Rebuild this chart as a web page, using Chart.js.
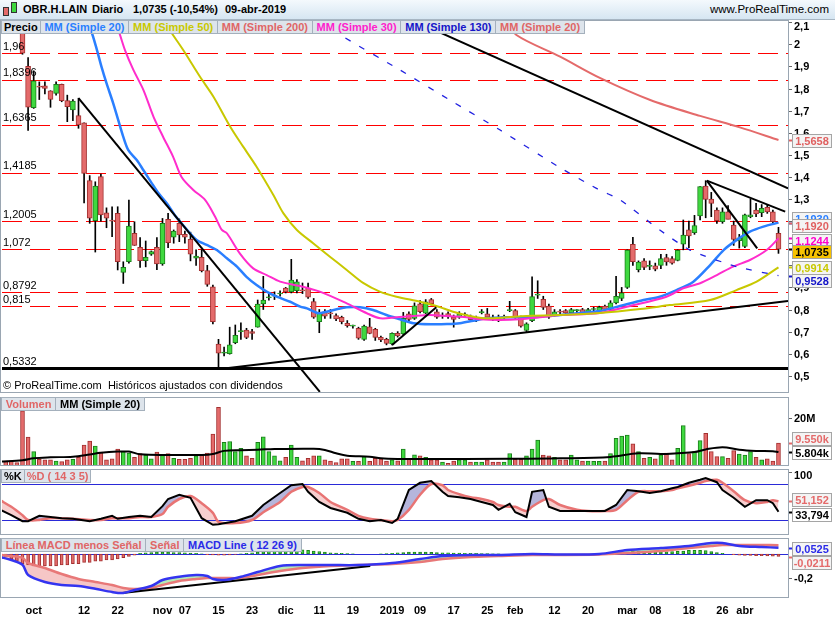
<!DOCTYPE html>
<html>
<head>
<meta charset="utf-8">
<title>OBR.H.LAIN - Diario</title>
<script src="https://cdn.jsdelivr.net/npm/chart.js"></script>
<style>
  body { margin: 0; background: #fff; font-family: "Liberation Sans", Arial, sans-serif; }
  #wrap { position: relative; width: 835px; height: 620px; overflow: hidden; background: #fff; }
  canvas { position: absolute; left: 0; }
  .top { position: absolute; left: 0; top: 0; width: 835px; height: 20px; box-sizing: border-box;
         background: linear-gradient(#f4f9fd, #d6e6f2); border-bottom: 1px solid #a7b6c3; }
  .top span { position: absolute; top: 3px; font: bold 11px "Liberation Sans", Arial, sans-serif; color: #000; white-space: pre; }
  .top .site { right: 6px; font-weight: normal; font-size: 11.5px; }
  .ico { position: absolute; width: 4px; border: 1px solid #333; }
  .legend { position: absolute; left: 1px; display: flex; height: 14px; z-index: 2; }
  .legend span { font: bold 11px/12px "Liberation Sans", Arial, sans-serif; background: #dde4eb;
                 border: 1px solid #a4b0bc; padding: 0 3.8px; margin-right: -1px; white-space: pre; }
  .note { position: absolute; left: 3px; top: 379px; font: 11px "Liberation Sans", Arial, sans-serif; white-space: pre; z-index: 2; }
</style>
</head>
<body>
<div id="wrap">
  <div class="top">
    <div class="ico" style="left:3px;top:7px;height:7px;background:#e46b6b"></div>
    <div class="ico" style="left:11px;top:2px;height:9px;background:#3fd83f"></div>
    <span style="left:23px">OBR.H.LAIN</span>
    <span style="left:92px">Diario</span>
    <span style="left:133px">1,0735 (-10,54%)</span>
    <span style="left:225px">09-abr-2019</span>
    <span class="site">www.ProRealTime.com</span>
  </div>

  <div class="legend" style="top:20px">
    <span style="color:#000;padding:0 2px">Precio</span>
    <span style="color:#2a7fff">MM (Simple 20)</span>
    <span style="color:#c8c800">MM (Simple 50)</span>
    <span style="color:#e06666">MM (Simple 200)</span>
    <span style="color:#ff22cc">MM (Simple 30)</span>
    <span style="color:#1515c8">MM (Simple 130)</span>
    <span style="color:#e06666">MM (Simple 20)</span>
  </div>
  <div class="note">© ProRealTime.com  Históricos ajustados con dividendos</div>

  <div class="legend" style="top:397px">
    <span style="color:#e06666">Volumen</span>
    <span style="color:#000">MM (Simple 20)</span>
  </div>
  <div class="legend" style="top:469px">
    <span style="color:#000;padding:0 2px">%K</span>
    <span style="color:#e06666;padding:0 2px">%D ( 14 3 5)</span>
  </div>
  <div class="legend" style="top:538px">
    <span style="color:#e06666">Línea MACD menos Señal</span>
    <span style="color:#e06666">Señal</span>
    <span style="color:#2a2ae8">MACD Line ( 12 26 9)</span>
  </div>

  <canvas id="cPrice" width="835" height="373" style="top:20px"></canvas>
  <canvas id="cVol" width="835" height="69" style="top:397px"></canvas>
  <canvas id="cSto" width="835" height="66" style="top:469px"></canvas>
  <canvas id="cMacd" width="835" height="82" style="top:538px"></canvas>
</div>

<script>
// ---- data (bar index 0 = 27-sep-2018, last bar 135 = 09-abr-2019) ----
const FIRST_BAR = -3;

const open = [
  2.30, 2.26, 2.22,
  2.18, 1.90, 1.713, 1.808, 1.812, 1.789, 1.778, 1.819, 1.745, 1.703,
  1.677, 1.645, 1.383, 1.202, 1.401, 1.238, 1.205, 1.235, 0.968, 1.016,
  1.145, 1.081, 1.021, 1.05, 1.081, 1.006, 1.208, 1.127, 1.19, 1.14,
  1.118, 1.032, 1.036, 0.976, 0.903, 0.644, 0.602, 0.60, 0.65, 0.70,
  0.707, 0.70, 0.72, 0.825, 0.853, 0.86, 0.87, 0.897, 0.88, 0.885,
  0.887, 0.897, 0.836, 0.745, 0.79, 0.782, 0.772, 0.765, 0.738, 0.725,
  0.715, 0.665, 0.722, 0.71, 0.674, 0.665, 0.644, 0.692, 0.689, 0.78,
  0.76, 0.826, 0.783, 0.845, 0.79, 0.77, 0.782, 0.766, 0.765, 0.775,
  0.768, 0.76, 0.786, 0.78, 0.766, 0.766, 0.765, 0.795, 0.795, 0.765,
  0.705, 0.75, 0.865, 0.846, 0.816, 0.775, 0.79, 0.795, 0.785, 0.795,
  0.80, 0.785, 0.80, 0.795, 0.815, 0.80, 0.83, 0.85, 0.90, 1.095,
  0.98, 1.02, 0.995, 0.998, 1.0, 1.035, 1.03, 1.022, 1.096, 1.16,
  1.148, 1.223, 1.358, 1.30, 1.25, 1.198, 1.242, 1.182, 1.112, 1.086,
  1.22, 1.25, 1.238, 1.262, 1.242, 1.145
];
const high = [
  2.32, 2.28, 2.25,
  2.20, 1.94, 1.88, 1.83, 1.83, 1.79, 1.83, 1.82, 1.77, 1.75,
  1.756, 1.645, 1.406, 1.378, 1.413, 1.26, 1.265, 1.265, 1.016, 1.295,
  1.197, 1.125, 1.11, 1.065, 1.125, 1.212, 1.235, 1.16, 1.21, 1.155,
  1.15, 1.07, 1.07, 1.0, 0.911, 0.665, 0.63, 0.72, 0.73, 0.74,
  0.715, 0.71, 0.843, 0.95, 0.875, 0.88, 0.885, 0.90, 1.027, 0.935,
  0.92, 0.92, 0.85, 0.80, 0.80, 0.80, 0.78, 0.77, 0.75, 0.73,
  0.72, 0.73, 0.76, 0.715, 0.68, 0.67, 0.695, 0.70, 0.787, 0.79,
  0.83, 0.84, 0.845, 0.85, 0.80, 0.785, 0.79, 0.775, 0.79, 0.785,
  0.775, 0.77, 0.80, 0.805, 0.775, 0.775, 0.775, 0.837, 0.80, 0.77,
  0.74, 0.948, 0.93, 0.86, 0.825, 0.80, 0.80, 0.80, 0.805, 0.80,
  0.805, 0.805, 0.81, 0.815, 0.82, 0.84, 0.95, 0.90, 1.07, 1.127,
  1.02, 1.03, 1.02, 1.01, 1.05, 1.05, 1.04, 1.07, 1.205, 1.20,
  1.226, 1.356, 1.383, 1.33, 1.26, 1.26, 1.27, 1.20, 1.14, 1.232,
  1.30, 1.28, 1.275, 1.275, 1.25, 1.172
];
const low = [
  2.24, 2.20, 2.17,
  1.955, 1.61, 1.71, 1.75, 1.775, 1.715, 1.77, 1.74, 1.65, 1.655,
  1.62, 1.282, 1.19, 1.06, 1.20, 1.17, 1.13, 0.979, 0.918, 1.01,
  1.09, 0.99, 0.993, 1.045, 0.98, 1.0, 1.08, 1.10, 1.107, 1.10,
  1.02, 1.0, 0.97, 0.905, 0.735, 0.5332, 0.59, 0.598, 0.645, 0.665,
  0.668, 0.665, 0.72, 0.80, 0.842, 0.845, 0.86, 0.875, 0.875, 0.875,
  0.872, 0.85, 0.76, 0.695, 0.76, 0.76, 0.75, 0.735, 0.72, 0.715,
  0.665, 0.66, 0.69, 0.66, 0.655, 0.64, 0.64, 0.675, 0.685, 0.745,
  0.755, 0.785, 0.78, 0.82, 0.76, 0.76, 0.76, 0.72, 0.76, 0.765,
  0.75, 0.745, 0.78, 0.76, 0.75, 0.745, 0.755, 0.79, 0.76, 0.72,
  0.70, 0.745, 0.85, 0.80, 0.76, 0.77, 0.775, 0.78, 0.78, 0.785,
  0.78, 0.78, 0.79, 0.79, 0.795, 0.795, 0.825, 0.84, 0.895, 1.0,
  0.97, 0.98, 0.98, 0.975, 0.985, 1.0, 1.005, 1.02, 1.07, 1.08,
  1.14, 1.205, 1.215, 1.22, 1.19, 1.19, 1.21, 1.09, 1.078, 1.08,
  1.215, 1.22, 1.22, 1.235, 1.19, 1.054
];
const close = [
  2.26, 2.22, 2.18,
  1.96, 1.715, 1.835, 1.806, 1.80, 1.751, 1.819, 1.745, 1.718, 1.743,
  1.635, 1.416, 1.213, 1.359, 1.228, 1.213, 1.20, 1.016, 0.991, 1.178,
  1.09, 1.021, 1.036, 1.062, 1.006, 1.19, 1.102, 1.155, 1.137, 1.127,
  1.05, 1.042, 0.976, 0.914, 0.745, 0.602, 0.607, 0.64, 0.683, 0.702,
  0.674, 0.692, 0.824, 0.843, 0.855, 0.862, 0.872, 0.88, 0.933, 0.925,
  0.884, 0.856, 0.765, 0.783, 0.77, 0.78, 0.757, 0.745, 0.727, 0.728,
  0.67, 0.725, 0.692, 0.674, 0.662, 0.647, 0.692, 0.68, 0.76, 0.755,
  0.817, 0.79, 0.835, 0.826, 0.765, 0.772, 0.767, 0.755, 0.78, 0.776,
  0.754, 0.761, 0.788, 0.765, 0.753, 0.752, 0.766, 0.796, 0.765, 0.725,
  0.735, 0.858, 0.867, 0.81, 0.765, 0.79, 0.788, 0.785, 0.80, 0.796,
  0.785, 0.80, 0.801, 0.81, 0.80, 0.83, 0.86, 0.875, 1.069, 1.016,
  1.015, 0.99, 1.0, 0.982, 1.03, 1.015, 1.01, 1.068, 1.137, 1.133,
  1.18, 1.356, 1.298, 1.28, 1.202, 1.242, 1.208, 1.117, 1.124, 1.228,
  1.228, 1.232, 1.258, 1.242, 1.197, 1.0735
];
// volume in millions
const volume = [
  2.2, 2.2, 1.4,
  23, 12, 6, 2.8, 2.6, 2.6, 2, 1.8, 2.6, 2.8,
  3.6, 8.7, 10.4, 8.3, 5.8, 2.6, 3, 7, 6, 5.4,
  3.6, 5.2, 4.5, 3, 5.8, 4.5, 5.2, 3.2, 2.8, 2.8,
  3.2, 4.2, 4.5, 5.4, 13.3, 24.4, 9.9, 10.2, 6, 7.4,
  4.2, 3.2, 9.9, 12.2, 6, 4.2, 2.2, 3.6, 8.7, 3.6,
  2.2, 3.2, 4.2, 4.2, 2.6, 2.1, 1.4, 3, 3, 1.9,
  1.9, 3.9, 1.9, 3.2, 3, 2.1, 2.6, 2.2, 7, 3.2,
  4.7, 4.2, 3.6, 2.6, 2.6, 1.6, 1.1, 2.1, 2.6, 2.6,
  1.6, 1.6, 1.6, 2.6, 1.6, 1.6, 1.6, 5.2, 2.8, 2.8,
  4.2, 7, 10.8, 4.5, 4.2, 3.6, 2.6, 2.6, 4.5, 2.6,
  2.1, 2.1, 1.9, 1.9, 2.1, 5.2, 11.5, 12.5, 12.9, 9.2,
  6, 3.2, 3.6, 3, 4.7, 5.4, 2.6, 7.4, 16.8, 5.2,
  6, 10.6, 13.6, 6, 3.9, 3.9, 3.2, 6.4, 5, 4.5,
  6, 3.6, 2.6, 3, 2.1, 9.55
];
const volMaBar = [-4, 0, 2, 5, 9, 12, 14, 17, 19, 21, 26, 32, 34, 36, 39, 42, 45, 52, 54, 56,
  58, 62, 64, 67, 71, 87, 96, 105, 110, 114, 117, 120, 122, 125, 128, 131, 134, 135];
const volMa = [1.8, 2.4, 3.2, 3.6, 3.9, 4.8, 5.5, 6.0, 6.0, 4.9, 4.6, 4.6, 5.0, 6.3, 6.6, 6.8, 7.1, 7.2, 6.7, 5.3,
  4.3, 3.9, 3.2, 2.9, 2.9, 3.0, 3.2, 3.8, 5.3, 5.0, 5.3, 5.8, 6.9, 7.8, 6.8, 6.3, 6.1, 5.8];

// moving averages: [bar, value]
const ma20 = [[11.2,2.11],[12.2,2.065],[13.3,1.974],[14.1,1.899],[15,1.824],[16.2,1.733],[17.1,1.657],[18,1.581],
  [18.9,1.521],[20.4,1.476],[21.6,1.43],[23.1,1.371],[24.3,1.326],[25.8,1.28],[27.2,1.227],[28.4,1.19],[29.9,1.145],
  [31.1,1.114],[32.9,1.092],[34.7,1.069],[36.5,1.032],[38.3,0.994],[40,0.948],[41.8,0.911],[43.6,0.881],[45.4,0.858],
  [47.8,0.835],[49.6,0.813],[50.8,0.805],[52.8,0.783],[54.3,0.79],[56.1,0.801],[57.9,0.81],[60.3,0.81],[62.6,0.798],
  [65,0.775],[67.4,0.756],[69.8,0.738],[73.4,0.733],[75.8,0.734],[78.1,0.738],[80.5,0.749],[82.9,0.76],[86.5,0.765],
  [91.2,0.765],[96,0.775],[99.6,0.784],[103.1,0.793],[106.7,0.816],[110.9,0.843],[113.8,0.858],[116.8,0.888],
  [119.8,0.926],[122.8,1.001],[125.2,1.069],[127.5,1.114],[129.9,1.152],[132.3,1.175],[135,1.193]];
const ma30 = [[16.2,2.11],[17.1,2.065],[18.3,1.974],[19.8,1.884],[21.6,1.793],[23.4,1.672],[25.1,1.582],[26.9,1.491],
  [28.4,1.4],[30.5,1.341],[32.6,1.296],[34.4,1.22],[35.6,1.16],[36.5,1.145],[38.8,1.054],[41.2,0.986],[43.6,0.956],
  [46,0.926],[49.6,0.906],[53.1,0.881],[57.9,0.828],[61.5,0.783],[63.9,0.76],[66.8,0.765],[69.8,0.771],[72.8,0.775],
  [75.8,0.771],[79.3,0.765],[81.7,0.756],[85.3,0.753],[88.8,0.756],[92.4,0.765],[96,0.775],[103.1,0.784],[108.5,0.816],
  [115,0.858],[118,0.896],[121,0.919],[124,0.956],[126.9,0.994],[129.9,1.024],[132.9,1.069],[135,1.122]];
const ma50 = [[25.4,2.11],[26.3,2.065],[28.7,1.974],[31.7,1.853],[34.1,1.763],[37.1,1.627],[39.4,1.537],[41.8,1.446],
  [44.8,1.318],[46.6,1.235],[49,1.16],[51.9,1.1],[54.9,1.039],[57.9,0.979],[60.9,0.919],[63.8,0.881],[66.8,0.858],
  [71,0.835],[73.9,0.816],[76.9,0.79],[79.9,0.771],[82.9,0.76],[86.5,0.765],[90,0.771],[96,0.775],[103.1,0.784],
  [110.3,0.802],[115.6,0.82],[122.8,0.843],[127.5,0.888],[131.1,0.926],[135,0.991]];
const ma130 = [[53,2.11],[57.3,2.034],[67.4,1.884],[76.3,1.748],[85.3,1.612],[95.7,1.446],[102.5,1.348],[106.7,1.296],
  [113.8,1.16],[119.2,1.069],[127.5,0.994],[135,0.953]];
const ma200 = [[86.5,2.11],[88.2,2.042],[96,1.944],[103.1,1.848],[112.1,1.748],[121,1.676],[128.1,1.624],[135,1.567]];

// drawn trend lines: [[bar, price], [bar, price]]
const trendLines = [
  [[10, 1.756], [53.1, 0.427]],
  [[68, 2.128], [136.7, 1.348]],
  [[122.2, 1.383], [136.2, 1.243]],
  [[122.2, 1.383], [131.2, 1.077]],
  [[35.3, 0.531], [136.7, 0.838]],
  [[66, 0.639], [73.9, 0.81]]
];
const levelValues = [1.96, 1.8396, 1.6365, 1.4185, 1.2005, 1.072, 0.8792, 0.815];
const supportLevel = 0.5332;
const priceTicks = [0.5, 0.6, 0.7, 0.8, 0.9, 1, 1.1, 1.2, 1.3, 1.4, 1.5, 1.6, 1.7, 1.8, 1.9, 2, 2.1];
const lastPrice = [1.5658, 1.1930, 1.1920, 1.1244, 0.9914, 0.9528, 1.0735];

// stochastic %K / %D
const stochBar = [-4, -2, 0, 1, 3, 5, 7, 9, 12, 14, 16, 17, 19, 21, 23, 25, 26, 28, 30, 32,
  34, 35, 38, 41, 43, 46, 48, 50, 51, 53, 55, 58, 60, 62, 64, 66, 67, 69, 71, 73,
  75, 76, 78, 80, 82, 84, 85, 87, 88, 90, 91, 93, 94, 96, 99, 101, 104, 106, 108, 110,
  112, 114, 116, 117, 119, 121, 122, 124, 125, 127, 129, 131, 133, 134, 135];
const stochK = [37, 28, 18, 18, 27, 25, 23, 22, 18, 22, 27, 22, 25, 27, 25, 43, 55, 62, 57, 23,
  12, 13, 18, 27, 45, 65, 78, 80, 67, 50, 40, 32, 22, 18, 20, 15, 22, 70, 82, 85,
  67, 60, 58, 55, 50, 45, 37, 47, 33, 25, 67, 70, 42, 35, 35, 35, 35, 45, 70, 68,
  65, 68, 73, 75, 82, 87, 90, 83, 70, 57, 42, 53, 53, 48, 33.794];
const stochD = [53, 42, 28, 20, 20, 23, 23, 22, 20, 20, 23, 23, 23, 25, 25, 30, 42, 55, 60, 48,
  32, 17, 15, 20, 33, 50, 67, 75, 75, 65, 50, 37, 27, 22, 20, 18, 20, 37, 62, 80,
  78, 70, 63, 58, 55, 50, 45, 42, 42, 35, 42, 53, 55, 45, 37, 35, 35, 37, 53, 67,
  68, 68, 70, 73, 77, 82, 85, 87, 82, 68, 53, 48, 50, 53, 51.152];

// MACD (12 26 9)
const macdBar = [-4, -2, 0, 1, 4, 7, 10, 13, 16, 18, 20, 23, 25, 28, 31, 33, 34, 36, 39, 42,
  46, 50, 55, 60, 66, 71, 75, 80, 85, 91, 96, 103, 108, 114, 119, 123, 125, 128, 132, 135];
const macdLine = [-0.025, -0.05, -0.09, -0.175, -0.233, -0.258, -0.267, -0.29, -0.317, -0.325,
  -0.3, -0.267, -0.217, -0.19, -0.175, -0.183, -0.208, -0.217, -0.19, -0.15,
  -0.1, -0.092, -0.092, -0.092, -0.075, -0.042, -0.017, -0.008, -0.008, 0,
  -0.004, 0, 0.033, 0.05, 0.067, 0.092, 0.092, 0.067, 0.058, 0.0525];
const macdSignal = [-0.008, -0.017, -0.033, -0.075, -0.117, -0.167, -0.208, -0.233, -0.258, -0.283,
  -0.292, -0.283, -0.258, -0.225, -0.208, -0.2, -0.2, -0.2, -0.2, -0.175,
  -0.142, -0.117, -0.1, -0.092, -0.083, -0.067, -0.042, -0.025, -0.017, -0.008,
  -0.008, -0.004, 0.008, 0.025, 0.05, 0.067, 0.075, 0.075, 0.075, 0.0736];
const macdHist = [
  -0.02, -0.04, -0.06,
  -0.08, -0.09, -0.10, -0.10, -0.10, -0.10, -0.10, -0.09, -0.09, -0.08,
  -0.08, -0.07, -0.07, -0.06, -0.06, -0.05, -0.05, -0.04, -0.03, -0.02,
  -0.01, 0.005, 0.01, 0.012, 0.015, 0.015, 0.015, 0.012, 0.012, 0.01,
  0.008, 0.005, 0.002, -0.005, -0.008, -0.01, -0.01, -0.008, -0.004, 0.002,
  0.005, 0.01, 0.015, 0.02, 0.03, 0.04, 0.05, 0.05, 0.045, 0.04,
  0.035, 0.03, 0.025, 0.02, 0.015, 0.01, 0.008, 0.005, 0.003, 0.002,
  0, 0, 0, 0, 0.002, 0.004, 0.006, 0.01, 0.012, 0.015,
  0.015, 0.015, 0.015, 0.013, 0.012, 0.01, 0.01, 0.008, 0.008, 0.006,
  0.005, 0.005, 0.004, 0.003, 0.002, 0.001, 0, 0, 0, -0.002,
  -0.003, -0.002, 0, 0, 0, 0, 0, 0, 0, 0,
  0, 0, 0, 0.002, 0.004, 0.006, 0.008, 0.012, 0.015, 0.02,
  0.02, 0.02, 0.02, 0.018, 0.018, 0.018, 0.02, 0.022, 0.025, 0.03,
  0.03, 0.03, 0.028, 0.02, 0.012, 0.005, 0, -0.005, -0.01, -0.012,
  -0.012, -0.014, -0.014, -0.015, -0.018, -0.021
];
const macdTrend = [[17.8, -0.325], [62.1, -0.1]];
const macdLast = [0.0525, -0.0211];

// date axis
const tickBars = [2, 11, 17, 25, 29, 35, 41, 47, 53, 59, 66, 71, 77, 83, 88, 95, 101, 108, 113, 119, 125, 129];
const tickText = ['oct', '12', '22', 'nov', '07', '15', '23', 'dic', '11', '19', '2019', '09', '17', '25',
  'feb', '12', '20', 'mar', '08', '18', '26', 'abr'];

// ---- styling ----
const X_MIN = -3.66, X_MAX = 136.7;
const FONT = '"Liberation Sans", Arial, sans-serif';
const GREEN = '#3fd83f', GREEN_EDGE = '#1c7f1c', RED = '#e46b6b', RED_EDGE = '#a33030';
const SALMON = '#e46a6a';

Chart.defaults.font.family = FONT;

const xs = open.map((_, i) => FIRST_BAR + i);
const up = close.map((c, i) => c >= open[i]);
const pts = arr => arr.map(p => ({ x: p[0], y: p[1] }));
const comma = (v, d) => v.toFixed(d).replace('.', ',');

const decor = {
  id: 'decor',
  beforeDatasetsDraw(chart, args, o) {
    const { ctx, chartArea: a } = chart;
    const y = chart.scales.y;
    ctx.save();
    ctx.beginPath();
    ctx.rect(a.left, a.top, a.right - a.left, a.bottom - a.top);
    ctx.clip();
    (o.levels || []).forEach(l => {
      const py = Math.round(y.getPixelForValue(l.value)) + (l.width % 2 ? 0.5 : 0);
      ctx.setLineDash(l.dash || []);
      ctx.strokeStyle = l.color;
      ctx.lineWidth = l.width;
      ctx.beginPath();
      ctx.moveTo(a.left, py);
      ctx.lineTo(a.right, py);
      ctx.stroke();
    });
    ctx.restore();
  },
  afterDraw(chart, args, o) {
    const { ctx, chartArea: a } = chart;
    const y = chart.scales.y;
    ctx.save();
    // labels of the horizontal levels
    ctx.font = '11px ' + FONT;
    ctx.fillStyle = '#000';
    ctx.textAlign = 'left';
    ctx.textBaseline = 'bottom';
    (o.levels || []).forEach(l => {
      if (l.label) ctx.fillText(l.label, a.left + 1, y.getPixelForValue(l.value) - 1);
    });
    // panel frame
    ctx.setLineDash([]);
    ctx.strokeStyle = '#9aa6b2';
    ctx.lineWidth = 1;
    ctx.strokeRect(0.5, a.top + 0.5, a.right, a.bottom - a.top - 1);
    // right axis
    ctx.font = 'bold 11px ' + FONT;
    ctx.textBaseline = 'middle';
    (o.ticks || []).forEach(t => {
      const py = Math.round(y.getPixelForValue(t.value)) + 0.5;
      ctx.strokeStyle = '#666';
      ctx.beginPath();
      ctx.moveTo(a.right + 1, py);
      ctx.lineTo(a.right + 4, py);
      ctx.stroke();
      ctx.fillStyle = '#000';
      ctx.fillText(t.text, a.right + 6, Math.max(py, a.top + 7));
    });
    // last value boxes
    ctx.textAlign = 'center';
    (o.boxes || []).forEach(b => {
      const vy = Math.round(y.getPixelForValue(b.value)) + 0.5;
      const cy = Math.round(vy + (b.dy || 0));
      ctx.strokeStyle = b.color;
      ctx.lineWidth = 2;
      ctx.beginPath();
      ctx.moveTo(a.right + 1, vy);
      ctx.lineTo(a.right + 4, vy);
      ctx.stroke();
      ctx.lineWidth = 1;
      ctx.fillStyle = b.bg || '#f4f4f4';
      ctx.fillRect(a.right + 4, cy - 7, 40, 14);
      ctx.strokeStyle = '#a5a5a5';
      ctx.strokeRect(a.right + 4.5, cy - 6.5, 39, 13);
      ctx.fillStyle = b.color;
      ctx.fillText(b.text, a.right + 24, cy + 0.5);
    });
    ctx.restore();
  }
};
Chart.register(decor);

function baseOptions(yMin, yMax, decorOpts) {
  return {
    responsive: false,
    animation: false,
    devicePixelRatio: 1,
    layout: { padding: { left: 2, right: 47, top: 0, bottom: 0 } },
    plugins: {
      legend: { display: false },
      tooltip: { enabled: false },
      filler: { drawTime: 'beforeDatasetsDraw' },
      decor: decorOpts
    },
    scales: {
      x: { type: 'linear', min: X_MIN, max: X_MAX, offset: false, display: false },
      y: { type: 'linear', min: yMin, max: yMax, display: false }
    },
    elements: { point: { radius: 0 } }
  };
}

function lineSet(data, color, width, extra) {
  return Object.assign({
    type: 'line', data: pts(data), borderColor: color, borderWidth: width,
    pointRadius: 0, fill: false, tension: 0.3, order: 1
  }, extra || {});
}

// ---- price panel ----
const priceSets = [
  {
    type: 'bar', order: 6, grouped: false, barThickness: 1, backgroundColor: '#000',
    data: xs.map((x, i) => ({ x, y: [low[i], high[i]] }))
  },
  {
    type: 'bar', order: 5, grouped: false, barThickness: 5, minBarLength: 1,
    borderWidth: 1, borderSkipped: false,
    backgroundColor: up.map(u => u ? GREEN : RED),
    borderColor: up.map(u => u ? GREEN_EDGE : RED_EDGE),
    data: xs.map((x, i) => ({ x, y: [open[i], close[i]] }))
  },
  lineSet(ma200, '#e46a6a', 2),
  lineSet(ma130, '#2020e0', 1.3, { borderDash: [6, 10], tension: 0.2 }),
  lineSet(ma50, '#c8c800', 2),
  lineSet(ma30, '#ff2ccc', 2),
  lineSet(ma20, '#2a7fff', 2.5),
  lineSet(ma20, '#e88080', 1)
].concat(trendLines.map(t => lineSet(t, '#000', 2, { tension: 0, order: 0 })));

const priceLevels = levelValues.map(v => ({ value: v, color: '#ff0000', width: 1, dash: [20, 8], label: comma(v, String(v).split('.')[1].length) }));
priceLevels.push({ value: supportLevel, color: '#000', width: 3, label: comma(supportLevel, 4) });

const boxStyle = [
  { color: '#e06060', dy: 0 },
  { color: '#2a7fff', dy: -5 },
  { color: '#e06060', dy: 2 },
  { color: '#ff00cc', dy: 2 },
  { color: '#c8c800', dy: 0 },
  { color: '#1515c8', dy: 4 },
  { color: '#000', dy: 2, bg: '#f7c200' }
];

new Chart(document.getElementById('cPrice'), {
  type: 'line',
  data: { datasets: priceSets },
  options: baseOptions(0.4222, 2.11, {
    levels: priceLevels,
    ticks: priceTicks.map(v => ({ value: v, text: comma(v, v % 1 ? 1 : 0) })),
    boxes: lastPrice.map((v, i) => Object.assign({ value: v, text: comma(v, 4) }, boxStyle[i]))
  })
});

// ---- volume panel ----
new Chart(document.getElementById('cVol'), {
  type: 'line',
  data: {
    datasets: [
      {
        type: 'bar', order: 2, grouped: false, barThickness: 4, borderWidth: 1, borderSkipped: false,
        backgroundColor: up.map(u => u ? GREEN : RED),
        borderColor: up.map(u => u ? GREEN_EDGE : RED_EDGE),
        data: xs.map((x, i) => ({ x, y: volume[i] }))
      },
      lineSet(volMaBar.map((b, i) => [b, volMa[i]]), '#000', 2, { tension: 0.35 })
    ]
  },
  options: baseOptions(0, 28.75, {
    ticks: [{ value: 20, text: '20M' }],
    boxes: [
      { value: volume[volume.length - 1], text: volume[volume.length - 1].toFixed(3) + 'k', color: SALMON, dy: -5 },
      { value: volMa[volMa.length - 1], text: '5.804k', color: '#000', dy: 0, bg: '#fff' }
    ]
  })
});

// ---- stochastic panel ----
new Chart(document.getElementById('cSto'), {
  type: 'line',
  data: {
    datasets: [
      lineSet(stochBar.map((b, i) => [b, stochK[i]]), '#000', 2, {
        tension: 0, order: 0,
        fill: { target: '+1', above: 'rgba(120,120,190,0.55)', below: 'rgba(240,160,160,0.5)' }
      }),
      lineSet(stochBar.map((b, i) => [b, stochD[i]]), '#e87474', 2.5, { tension: 0.3 })
    ]
  },
  options: baseOptions(-5, 105, {
    levels: [{ value: 80, color: '#2a2ad8', width: 1 }, { value: 20, color: '#2a2ad8', width: 1 }],
    ticks: [{ value: 100, text: '100' }],
    boxes: [
      { value: stochD[stochD.length - 1], text: comma(stochD[stochD.length - 1], 3), color: SALMON, dy: -2 },
      { value: stochK[stochK.length - 1], text: comma(stochK[stochK.length - 1], 3), color: '#000', dy: 2, bg: '#fff' }
    ]
  })
});

// ---- MACD panel ----
const macdOpts = baseOptions(-0.3667, 0.1333, {
  levels: [{ value: 0, color: '#2a2ad8', width: 1 }],
  ticks: [{ value: -0.2, text: '-0,2' }],
  boxes: [
    { value: macdLast[0], text: comma(macdLast[0], 4), color: '#2a2ae8', dy: 0 },
    { value: macdLast[1], text: comma(macdLast[1], 4), color: SALMON, dy: 5 }
  ]
});
macdOpts.scales.x = {
  type: 'linear', min: X_MIN, max: X_MAX, offset: false, display: true, position: 'bottom',
  grid: { display: false, drawTicks: false }, border: { display: false },
  afterBuildTicks: s => { s.ticks = tickBars.map(v => ({ value: v })); },
  afterFit: s => { s.height = 22; },
  ticks: {
    autoSkip: false, maxRotation: 0, padding: 6, color: '#000',
    font: { size: 11, weight: 'bold' },
    callback: (v, i) => tickText[i]
  }
};

new Chart(document.getElementById('cMacd'), {
  type: 'line',
  data: {
    datasets: [
      lineSet(macdBar.map((b, i) => [b, macdLine[i]]), '#3434f0', 2.5, {
        order: 0,
        fill: { target: '+1', above: 'rgba(150,225,150,0.7)', below: 'rgba(240,160,160,0.6)' }
      }),
      lineSet(macdBar.map((b, i) => [b, macdSignal[i]]), '#e87878', 2.5, { order: 1 }),
      {
        type: 'bar', order: 3, grouped: false, barThickness: 3, borderWidth: 1, borderSkipped: false,
        backgroundColor: macdHist.map(v => v >= 0 ? GREEN : RED),
        borderColor: macdHist.map(v => v >= 0 ? GREEN_EDGE : RED_EDGE),
        data: xs.map((x, i) => ({ x, y: macdHist[i] }))
      },
      lineSet(macdTrend, '#000', 2, { tension: 0, order: 0 })
    ]
  },
  options: macdOpts
});
</script>
</body>
</html>
